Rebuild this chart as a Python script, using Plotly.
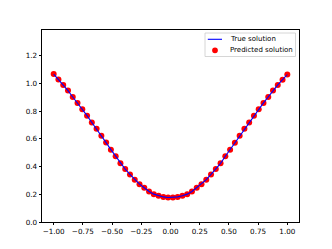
import plotly.graph_objects as go

x_vals = [-1 + 2 * i / 49 for i in range(50)]
left_half = [1.067, 1.028, 0.989, 0.948, 0.902, 0.859, 0.813, 0.767, 0.718, 0.672,
             0.622, 0.573, 0.522, 0.474, 0.423, 0.382, 0.343, 0.305, 0.273, 0.247,
             0.220, 0.201, 0.189, 0.181, 0.177]
right_half = [0.177, 0.181, 0.189, 0.201, 0.220, 0.247, 0.273, 0.305, 0.343, 0.382,
              0.423, 0.474, 0.522, 0.572, 0.622, 0.672, 0.718, 0.767, 0.813, 0.859,
              0.902, 0.948, 0.989, 1.027, 1.064]
true_y = left_half + right_half
pred_y = left_half + right_half

x_ticks = [-1.0, -0.75, -0.5, -0.25, 0.0, 0.25, 0.5, 0.75, 1.0]
x_tick_labels = ["\u22121.00", "\u22120.75", "\u22120.50", "\u22120.25", "0.00", "0.25", "0.50", "0.75", "1.00"]
y_ticks = [0.0, 0.2, 0.4, 0.6, 0.8, 1.0, 1.2]
y_tick_labels = ["0.0", "0.2", "0.4", "0.6", "0.8", "1.0", "1.2"]
legend_labels = ["True solution", "Predicted solution"]

fig = go.Figure()
fig.add_trace(go.Scatter(x=x_vals, y=pred_y, mode="markers", name=legend_labels[1],
                         marker=dict(color="#ff0000", size=6, line=dict(width=0)),
                         showlegend=False))
fig.add_trace(go.Scatter(x=x_vals, y=true_y, mode="lines", name=legend_labels[0],
                         line=dict(color="#0000ff", width=1.1), showlegend=False))

font = dict(family="DejaVu Sans", size=7.2, color="black")
axis_common = dict(showgrid=False, zeroline=False, showline=True, linecolor="black",
                   linewidth=0.8, mirror=True, ticks="outside", ticklen=2.5,
                   tickwidth=0.8, tickcolor="black", tickfont=font, automargin=False)

# manual legend in paper coordinates (matplotlib-style box)
W, H = 257.0, 192.0
def px(xp):
    return (xp - 42) / W
def py(yp):
    return (222 - yp) / H

shapes = [
    dict(type="rect", xref="paper", yref="paper", x0=px(205), x1=px(295.5), y0=py(56.5), y1=py(33),
         line=dict(color="#cccccc", width=0.8), fillcolor="rgba(255,255,255,0.8)", layer="above"),
    dict(type="line", xref="paper", yref="paper", x0=px(207.8), x1=px(222), y0=py(39.3), y1=py(39.3),
         line=dict(color="#0000ff", width=1.1), layer="above"),
    dict(type="circle", xref="paper", yref="paper", x0=px(215 - 2.9), x1=px(215 + 2.9),
         y0=py(50.3 + 2.9), y1=py(50.3 - 2.9), line=dict(width=0), fillcolor="#ff0000", layer="above"),
]
annotations = [
    dict(xref="paper", yref="paper", x=px(227.7), y=py(39.3), text=legend_labels[0], showarrow=False,
         xanchor="left", yanchor="middle", font=dict(family="DejaVu Sans", size=7.0, color="black")),
    dict(xref="paper", yref="paper", x=px(227.7), y=py(50.3), text=legend_labels[1], showarrow=False,
         xanchor="left", yanchor="middle", font=dict(family="DejaVu Sans", size=7.0, color="black")),
]

fig.update_layout(
    width=332, height=249,
    margin=dict(l=42, r=33, t=30, b=27, pad=0),
    plot_bgcolor="white", paper_bgcolor="white",
    showlegend=False,
    shapes=shapes, annotations=annotations,
    xaxis=dict(range=[-1.1, 1.1], tickvals=x_ticks, ticktext=x_tick_labels, **axis_common),
    yaxis=dict(range=[0, 1.385], tickvals=y_ticks, ticktext=y_tick_labels, **axis_common),
)

fig.write_html("out.html", config={"displayModeBar": False},
               post_script="document.body.style.margin='0px';document.body.style.overflow='hidden';")
